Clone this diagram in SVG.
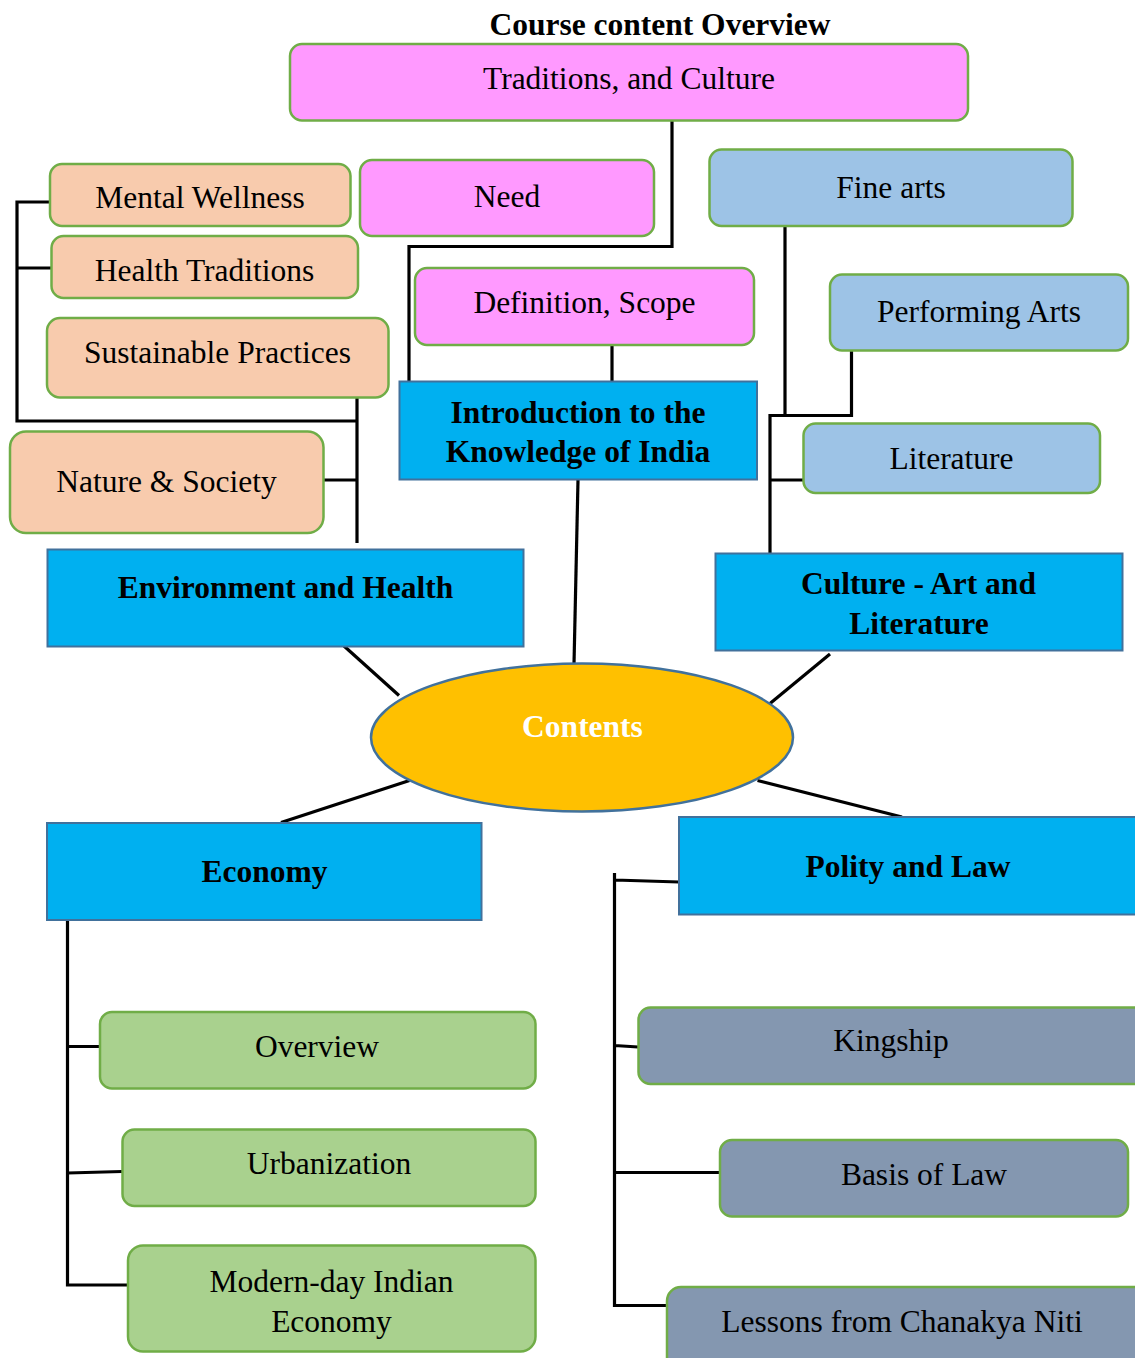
<svg xmlns="http://www.w3.org/2000/svg" width="1135" height="1358" viewBox="0 0 1135 1358">
<style>
text{font-family:"Liberation Serif","Times New Roman",serif;font-size:31.5px;fill:#000;text-anchor:middle}
.b{font-weight:bold}
.w{fill:#fff}
.rb{stroke:#70AD47;stroke-width:2.5}
.pink{fill:#FF99FF}
.peach{fill:#F8CBAD}
.lb{fill:#9DC3E6}
.gr{fill:#A9D18E}
.gb{fill:#8497B0}
.main{fill:#00B0F0;stroke:#41719C;stroke-width:2}
.c{stroke:#000;stroke-width:3.2;fill:none}
</style>
<rect width="1135" height="1358" fill="#fff"/>
<text class="b" x="660" y="35">Course content Overview</text>

<g id="connectors">
<path class="c" d="M672,121 V246.5 H409 V382"/>
<path class="c" d="M612,346 V382"/>
<path class="c" d="M57,202 H17 V421 H357 M17,268 H55 M357,398 V543 M324,480 H357"/>
<path class="c" d="M785,226 V415.5 M851.5,351 V415.5 H770 V553 M770,480 H804"/>
<path class="c" d="M578,480 L574,664"/>
<path class="c" d="M344,646 L399,695.5"/>
<path class="c" d="M830,654 L770,703.5"/>
<path class="c" d="M409.5,780.5 L281,822.5"/>
<path class="c" d="M757.5,780.5 L902,817"/>
<path class="c" d="M67.5,920 V1285 H128 M67.5,1046.5 H100 M67.5,1173 L122,1171.5"/>
<path class="c" d="M614.5,873 V1305.5 H672 M614.5,880 L679,882 M614.5,1045.5 L638,1047 M614.5,1172.5 H720"/>
</g>

<g id="traditions"><rect class="pink rb" x="290" y="44" width="678" height="76.5" rx="12"/><text x="629" y="88.5">Traditions, and Culture</text></g>
<g id="need"><rect class="pink rb" x="360" y="160" width="294" height="76" rx="12"/><text x="507" y="207">Need</text></g>
<g id="definition"><rect class="pink rb" x="415" y="268" width="339" height="77" rx="12"/><text x="584.5" y="313">Definition, Scope</text></g>

<g id="mental"><rect class="peach rb" x="50" y="164" width="300.5" height="62" rx="12"/><text x="200" y="208">Mental Wellness</text></g>
<g id="healthtrad"><rect class="peach rb" x="51.5" y="236" width="306.5" height="62" rx="12"/><text x="204.5" y="280.5">Health Traditions</text></g>
<g id="sustainable"><rect class="peach rb" x="47" y="318" width="341.5" height="79.5" rx="13"/><text x="217.5" y="362.5">Sustainable Practices</text></g>
<g id="nature"><rect class="peach rb" x="10" y="431.5" width="313.5" height="101.5" rx="16"/><text x="166.5" y="492">Nature &amp; Society</text></g>

<g id="finearts"><rect class="lb rb" x="709.5" y="149.5" width="363" height="76.5" rx="12"/><text x="891" y="198">Fine arts</text></g>
<g id="performing"><rect class="lb rb" x="830" y="274.5" width="298" height="76" rx="12"/><text x="979" y="322">Performing Arts</text></g>
<g id="literature"><rect class="lb rb" x="803.5" y="423.5" width="296.5" height="69.5" rx="12"/><text x="951.5" y="469">Literature</text></g>

<g id="intro"><rect class="main" x="399.5" y="381.5" width="357.5" height="98"/><text class="b" x="578" y="422.5">Introduction to the</text><text class="b" x="578" y="462">Knowledge of India</text></g>
<g id="environment"><rect class="main" x="47.5" y="549.5" width="476" height="97"/><text class="b" x="285.5" y="598">Environment and Health</text></g>
<g id="culture"><rect class="main" x="715.5" y="553.5" width="407" height="97"/><text class="b" x="918.5" y="594">Culture - Art and</text><text class="b" x="919" y="634">Literature</text></g>

<g id="contents"><ellipse cx="582" cy="737.5" rx="211" ry="74" fill="#FFC000" stroke="#41719C" stroke-width="2.5"/><text class="b w" x="582.5" y="737">Contents</text></g>

<g id="economy"><rect class="main" x="47" y="823" width="434.5" height="97"/><text class="b" x="264.5" y="881.5">Economy</text></g>
<g id="polity"><rect class="main" x="679" y="817" width="470" height="97.5"/><text class="b" x="908" y="876.5">Polity and Law</text></g>

<g id="overview"><rect class="gr rb" x="100" y="1012" width="435.5" height="76.5" rx="12"/><text x="317" y="1056.5">Overview</text></g>
<g id="urbanization"><rect class="gr rb" x="122.5" y="1129.5" width="413" height="76.5" rx="12"/><text x="329" y="1173.5">Urbanization</text></g>
<g id="modern"><rect class="gr rb" x="128" y="1245.5" width="407.5" height="106" rx="15"/><text x="331.5" y="1292">Modern-day Indian</text><text x="331.5" y="1332">Economy</text></g>

<g id="kingship"><rect class="gb rb" x="638.5" y="1007.5" width="510" height="76.5" rx="12"/><text x="891" y="1050.5">Kingship</text></g>
<g id="basis"><rect class="gb rb" x="720" y="1140" width="408" height="76.5" rx="12"/><text x="924" y="1184.5">Basis of Law</text></g>
<g id="lessons"><rect class="gb rb" x="667" y="1287" width="490" height="100" rx="14"/><text x="902" y="1332">Lessons from Chanakya Niti</text></g>
</svg>
